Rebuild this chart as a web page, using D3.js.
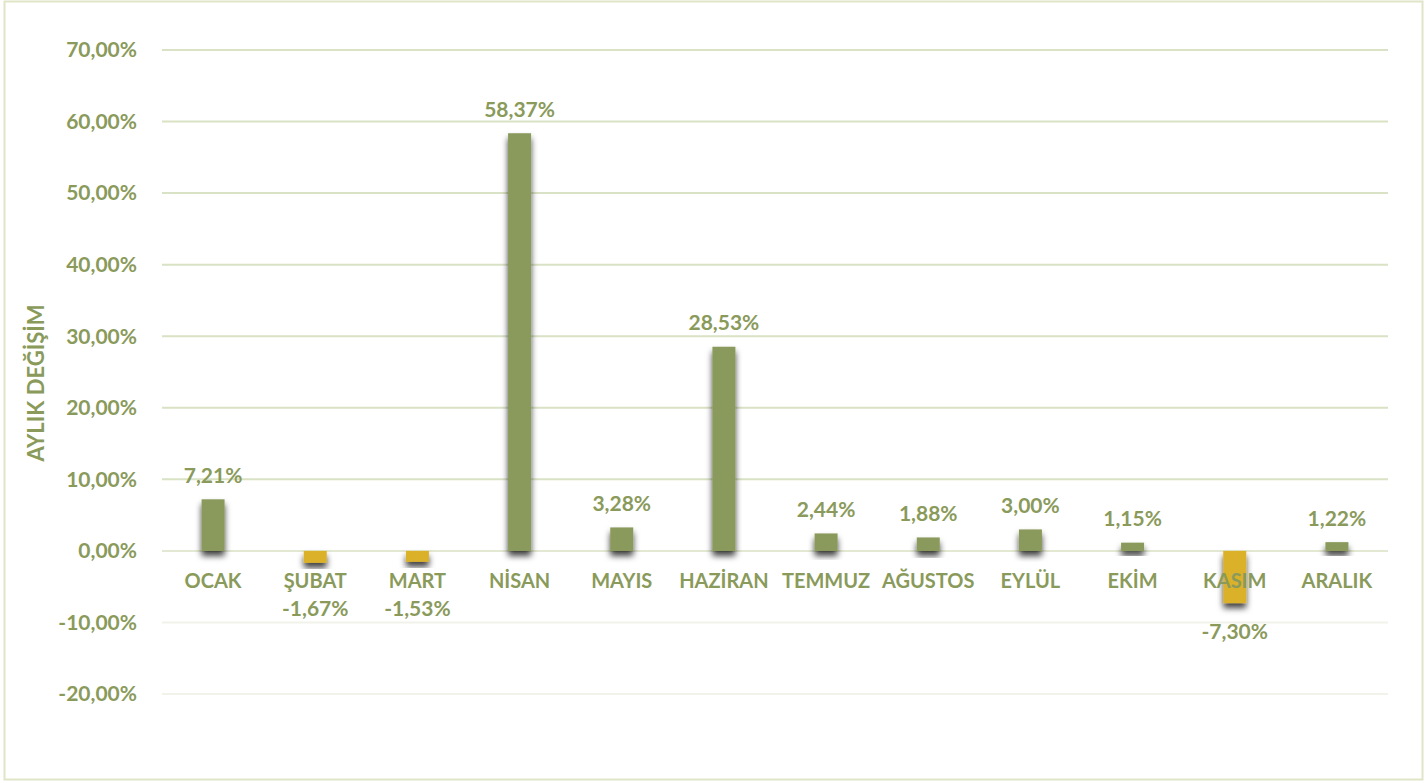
<!DOCTYPE html>
<html>
<head>
<meta charset="utf-8">
<script src="https://cdn.jsdelivr.net/npm/d3@7"></script>
<style>
  body { margin: 0; background: #fff; }
  text { font-family: Lato, "Open Sans", sans-serif; font-weight: bold; fill: #8a9a5b; }
</style>
</head>
<body>
<div class="item"></div>
<script>
// aylık değişim verisi
var months = ["OCAK", "ŞUBAT", "MART", "NİSAN", "MAYIS", "HAZİRAN", "TEMMUZ", "AĞUSTOS", "EYLÜL", "EKİM", "KASIM", "ARALIK"];
var changes = [7.21, -1.67, -1.53, 58.37, 3.28, 28.53, 2.44, 1.88, 3.00, 1.15, -7.30, 1.22];
var yTicks = [-20, -10, 0, 10, 20, 30, 40, 50, 60, 70];
var yTitle = "AYLIK DEĞİŞİM";

var width = 1426;
var height = 783;
var margin = {left: 162, right: 38, top: 50, bottom: 89};

var svg = d3.select(".item")
    .append("svg")
    .attr("width", width)
    .attr("height", height);

// yüzde biçimi (virgül ile)
function pct(d) {
    return d3.format(".2f")(d).replace(".", ",").replace("\u2212", "-") + "%";
}

// gölge filtresi
var defs = svg.append("defs");
defs.append("filter")
    .attr("id", "shadow")
    .attr("x", "-50%").attr("y", "-50%")
    .attr("width", "200%").attr("height", "200%")
    .append("feDropShadow")
    .attr("dx", 0).attr("dy", 5)
    .attr("stdDeviation", 3)
    .attr("flood-color", "#000")
    .attr("flood-opacity", 0.75);

// çerçeve
svg.append("rect")
    .attr("x", 4.5).attr("y", 1.5)
    .attr("width", 1418).attr("height", 778)
    .attr("fill", "none")
    .attr("stroke", "#dfe6c8")
    .attr("stroke-width", 2);

var x = d3.scaleBand()
    .domain(months)
    .range([margin.left, width - margin.right]);

var y = d3.scaleLinear()
    .domain([-20, 70])
    .range([height - margin.bottom, margin.top]);

// ızgara çizgileri
svg.selectAll("line.grid")
    .data(yTicks)
    .enter()
    .append("line")
    .attr("class", "grid")
    .attr("x1", margin.left)
    .attr("x2", width - margin.right)
    .attr("y1", function(d){ return y(d); })
    .attr("y2", function(d){ return y(d); })
    .attr("stroke", function(d){ return d > 0 ? "#d9e2c4" : (d == 0 ? "#e3e8d2" : "#f1f2ea"); })
    .attr("stroke-width", 2);

// y ekseni etiketleri
svg.selectAll("text.ytick")
    .data(yTicks)
    .enter()
    .append("text")
    .attr("class", "ytick")
    .attr("x", 137)
    .attr("y", function(d){ return y(d); })
    .attr("dy", "0.35em")
    .attr("text-anchor", "end")
    .style("font-size", "21px")
    .text(pct);

// eksen başlığı
svg.append("text")
    .attr("transform", "translate(44," + 383 + ") rotate(-90)")
    .attr("text-anchor", "middle")
    .style("font-size", "22px")
    .text(yTitle);

// çubuklar
var bw = 23;
svg.selectAll("rect.bar")
    .data(changes)
    .enter()
    .append("rect")
    .attr("class", "bar")
    .attr("x", function(d, i){ return x(months[i]) + x.bandwidth() / 2 - bw / 2; })
    .attr("y", function(d){ return y(Math.max(d, 0)); })
    .attr("width", bw)
    .attr("height", function(d){ return Math.abs(y(d) - y(0)); })
    .attr("fill", function(d){ return d < 0 ? "#dbb12a" : "#8a9a5b"; })
    .attr("filter", "url(#shadow)");

// kategori etiketleri
svg.selectAll("text.cat")
    .data(months)
    .enter()
    .append("text")
    .attr("class", "cat")
    .attr("x", function(d){ return x(d) + x.bandwidth() / 2; })
    .attr("y", y(0) + 30)
    .attr("dy", "0.35em")
    .attr("text-anchor", "middle")
    .style("font-size", "20px")
    .text(function(d){ return d; });

// değer etiketleri
svg.selectAll("text.val")
    .data(changes)
    .enter()
    .append("text")
    .attr("class", "val")
    .attr("x", function(d, i){ return x(months[i]) + x.bandwidth() / 2; })
    .attr("y", function(d){
        return d >= 0 ? y(d) - 24 : Math.max(y(d) + 29, y(0) + 58);
    })
    .attr("dy", "0.35em")
    .attr("text-anchor", "middle")
    .style("font-size", "21px")
    .text(pct);
</script>
</body>
</html>
